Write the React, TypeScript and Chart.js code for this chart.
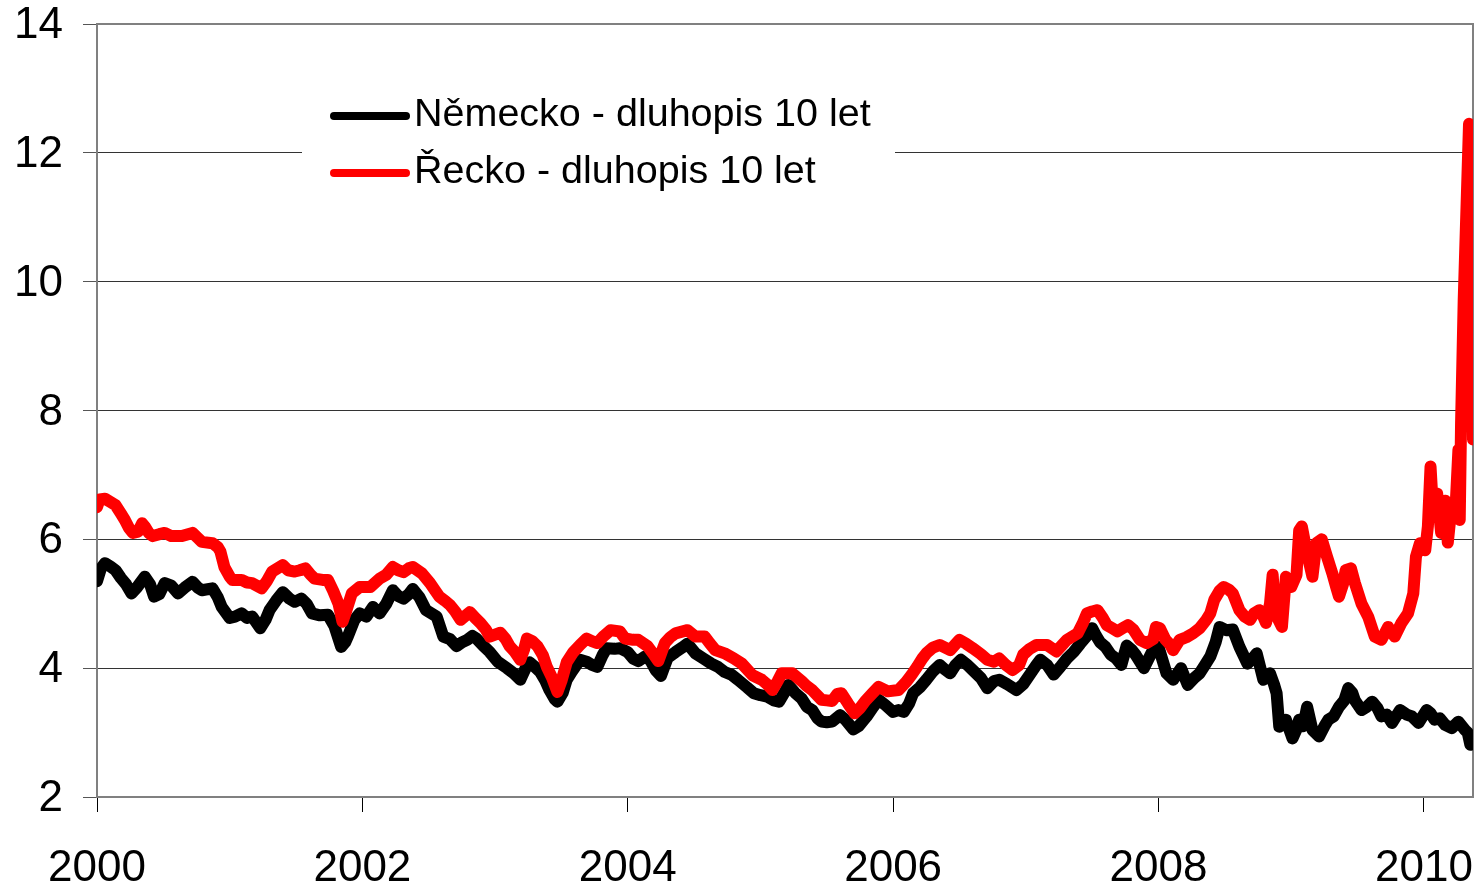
import { useEffect, useRef } from "react";
import { Chart, registerables } from "chart.js";

Chart.register(...registerables);

// Německo (Germany) 10Y bond yield — [year fraction]
const germanyDates = [
  2000.0, 2000.03, 2000.06, 2000.1, 2000.14, 2000.18, 2000.22, 2000.26, 2000.3, 2000.36,
  2000.4, 2000.43, 2000.47, 2000.51, 2000.56, 2000.61, 2000.66, 2000.72, 2000.76, 2000.79,
  2000.87, 2000.91, 2000.94, 2001.0, 2001.04, 2001.09, 2001.13, 2001.17, 2001.23, 2001.27,
  2001.3, 2001.35, 2001.4, 2001.45, 2001.49, 2001.54, 2001.58, 2001.62, 2001.68, 2001.74,
  2001.79, 2001.84, 2001.87, 2001.89, 2001.94, 2001.98, 2002.03, 2002.08, 2002.13, 2002.18,
  2002.23, 2002.27, 2002.31, 2002.35, 2002.38, 2002.43, 2002.48, 2002.52, 2002.56, 2002.61,
  2002.66, 2002.71, 2002.75, 2002.79, 2002.83, 2002.86, 2002.91, 2002.96, 2003.02, 2003.09,
  2003.14, 2003.19, 2003.23, 2003.26, 2003.3, 2003.34, 2003.38, 2003.41, 2003.45, 2003.47,
  2003.51, 2003.54, 2003.58, 2003.64, 2003.69, 2003.73, 2003.77, 2003.81, 2003.84, 2003.9,
  2003.94, 2004.0, 2004.04, 2004.08, 2004.13, 2004.17, 2004.21, 2004.25, 2004.3, 2004.36,
  2004.41, 2004.45, 2004.51, 2004.57, 2004.63, 2004.68, 2004.73, 2004.78, 2004.83, 2004.9,
  2004.95, 2005.0, 2005.05, 2005.1, 2005.14, 2005.18, 2005.21, 2005.26, 2005.31, 2005.35,
  2005.39, 2005.43, 2005.46, 2005.5, 2005.54, 2005.6, 2005.64, 2005.7, 2005.74, 2005.8,
  2005.85, 2005.89, 2005.94, 2006.0, 2006.04, 2006.08, 2006.12, 2006.15, 2006.2, 2006.25,
  2006.3, 2006.35, 2006.39, 2006.43, 2006.47, 2006.51, 2006.56, 2006.6, 2006.66, 2006.71,
  2006.76, 2006.8, 2006.86, 2006.93, 2006.98, 2007.03, 2007.08, 2007.11, 2007.16, 2007.21,
  2007.26, 2007.31, 2007.36, 2007.41, 2007.46, 2007.5, 2007.53, 2007.56, 2007.6, 2007.64,
  2007.68, 2007.72, 2007.76, 2007.8, 2007.83, 2007.89, 2007.95, 2008.0, 2008.06, 2008.11,
  2008.17, 2008.22, 2008.27, 2008.31, 2008.35, 2008.39, 2008.43, 2008.46, 2008.51, 2008.56,
  2008.61, 2008.67, 2008.71, 2008.74, 2008.79, 2008.84, 2008.87, 2008.89, 2008.91, 2008.96,
  2009.01, 2009.04, 2009.06, 2009.09, 2009.12, 2009.16, 2009.21, 2009.25, 2009.28, 2009.32,
  2009.36, 2009.4, 2009.43, 2009.46, 2009.48, 2009.53, 2009.57, 2009.61, 2009.65, 2009.68,
  2009.72, 2009.76, 2009.82, 2009.87, 2009.91, 2009.96, 2010.02, 2010.05, 2010.08, 2010.12,
  2010.16, 2010.21, 2010.26, 2010.31, 2010.33, 2010.35, 2010.37,
];
const germanyYields = [
  5.35, 5.55, 5.63, 5.58, 5.52, 5.4, 5.3, 5.16, 5.25, 5.42,
  5.3, 5.11, 5.15, 5.32, 5.28, 5.16, 5.25, 5.34, 5.25, 5.21,
  5.24, 5.1, 4.95, 4.78, 4.8, 4.85, 4.78, 4.8, 4.62, 4.75,
  4.9, 5.05, 5.18, 5.08, 5.03, 5.08, 5.0, 4.85, 4.82, 4.83,
  4.65, 4.33, 4.4, 4.49, 4.75, 4.85, 4.8, 4.95, 4.85, 5.0,
  5.21, 5.12, 5.08, 5.15, 5.23, 5.1, 4.9, 4.85, 4.8, 4.49,
  4.45, 4.34, 4.4, 4.44, 4.5, 4.46, 4.35, 4.25, 4.1, 4.0,
  3.92, 3.82, 4.0, 4.09, 4.02, 3.94, 3.8, 3.66, 3.52, 3.48,
  3.62, 3.82, 3.95, 4.13, 4.1, 4.05, 4.02, 4.2, 4.31, 4.3,
  4.31, 4.25, 4.15, 4.11, 4.18, 4.12, 3.97, 3.88, 4.16, 4.25,
  4.32, 4.38, 4.23, 4.15, 4.07, 4.02, 3.94, 3.9, 3.82, 3.7,
  3.61, 3.58, 3.56, 3.5, 3.48, 3.62, 3.74, 3.62, 3.53, 3.4,
  3.35, 3.22, 3.17, 3.16, 3.17, 3.27, 3.2, 3.05, 3.1, 3.25,
  3.4, 3.51, 3.43, 3.32, 3.35, 3.32, 3.45, 3.61, 3.7, 3.82,
  3.95, 4.05, 3.98, 3.92, 4.05, 4.13, 4.05, 3.97, 3.85, 3.69,
  3.8, 3.82, 3.75, 3.66, 3.75, 3.9, 4.05, 4.13, 4.05, 3.9,
  4.02, 4.15, 4.25, 4.38, 4.5, 4.62, 4.5, 4.4, 4.33, 4.21,
  4.15, 4.05, 4.35, 4.28, 4.2, 4.0, 4.25, 4.33, 3.92, 3.82,
  4.0, 3.74, 3.85, 3.92, 4.05, 4.18, 4.4, 4.64, 4.59, 4.6,
  4.33, 4.07, 4.15, 4.23, 3.82, 3.92, 3.75, 3.61, 3.09, 3.2,
  2.91, 3.05, 3.2, 3.1, 3.4, 3.04, 2.94, 3.1, 3.2, 3.25,
  3.4, 3.5, 3.69, 3.62, 3.5, 3.35, 3.4, 3.48, 3.38, 3.25,
  3.28, 3.15, 3.35, 3.28, 3.25, 3.15, 3.35, 3.3, 3.2, 3.22,
  3.12, 3.07, 3.17, 3.04, 3.0, 2.81, 2.85,
];

// Řecko (Greece) 10Y bond yield — [year fraction]
const greeceDates = [
  2000.0, 2000.02, 2000.06, 2000.1, 2000.14, 2000.18, 2000.21, 2000.24, 2000.27, 2000.31,
  2000.34, 2000.36, 2000.39, 2000.42, 2000.47, 2000.51, 2000.56, 2000.64, 2000.72, 2000.76,
  2000.79, 2000.87, 2000.91, 2000.93, 2000.96, 2001.0, 2001.02, 2001.09, 2001.13, 2001.17,
  2001.24, 2001.28, 2001.32, 2001.36, 2001.4, 2001.44, 2001.49, 2001.53, 2001.57, 2001.61,
  2001.64, 2001.7, 2001.74, 2001.78, 2001.82, 2001.85, 2001.88, 2001.92, 2001.98, 2002.06,
  2002.13, 2002.18, 2002.23, 2002.27, 2002.31, 2002.35, 2002.38, 2002.45, 2002.51, 2002.55,
  2002.58, 2002.62, 2002.66, 2002.7, 2002.74, 2002.78, 2002.81, 2002.85, 2002.89, 2002.93,
  2002.96, 2003.0, 2003.04, 2003.08, 2003.11, 2003.15, 2003.19, 2003.22, 2003.24, 2003.28,
  2003.32, 2003.36, 2003.39, 2003.43, 2003.47, 2003.5, 2003.54, 2003.59, 2003.64, 2003.69,
  2003.73, 2003.77, 2003.82, 2003.87, 2003.94, 2003.98, 2004.04, 2004.08, 2004.15, 2004.2,
  2004.23, 2004.28, 2004.32, 2004.36, 2004.45, 2004.51, 2004.58, 2004.62, 2004.66, 2004.73,
  2004.8, 2004.86, 2004.94, 2005.01, 2005.05, 2005.09, 2005.13, 2005.16, 2005.24, 2005.31,
  2005.35, 2005.39, 2005.46, 2005.5, 2005.54, 2005.58, 2005.61, 2005.66, 2005.71, 2005.75,
  2005.79, 2005.84, 2005.89, 2005.96, 2006.04, 2006.1, 2006.14, 2006.18, 2006.22, 2006.25,
  2006.3, 2006.35, 2006.43, 2006.5, 2006.55, 2006.6, 2006.66, 2006.71, 2006.76, 2006.8,
  2006.85, 2006.9, 2006.95, 2006.98, 2007.03, 2007.08, 2007.16, 2007.23, 2007.27, 2007.31,
  2007.39, 2007.43, 2007.46, 2007.5, 2007.54, 2007.58, 2007.61, 2007.65, 2007.69, 2007.73,
  2007.77, 2007.81, 2007.86, 2007.91, 2007.96, 2007.98, 2008.01, 2008.05, 2008.09, 2008.11,
  2008.16, 2008.21, 2008.26, 2008.31, 2008.36, 2008.39, 2008.42, 2008.46, 2008.49, 2008.53,
  2008.56, 2008.61, 2008.65, 2008.69, 2008.72, 2008.76, 2008.79, 2008.81, 2008.84, 2008.86,
  2008.88, 2008.93, 2008.96, 2009.0, 2009.04, 2009.06, 2009.08, 2009.11, 2009.14, 2009.16,
  2009.19, 2009.23, 2009.27, 2009.31, 2009.34, 2009.36, 2009.39, 2009.41, 2009.45, 2009.48,
  2009.53, 2009.58, 2009.63, 2009.68, 2009.73, 2009.78, 2009.83, 2009.88, 2009.92, 2009.94,
  2009.97, 2010.01, 2010.03, 2010.05, 2010.07, 2010.1, 2010.13, 2010.16, 2010.18, 2010.2,
  2010.24, 2010.26, 2010.27, 2010.28, 2010.3, 2010.34, 2010.36, 2010.37,
];
const greeceYields = [
  6.5, 6.62, 6.63, 6.58, 6.53, 6.4, 6.3, 6.18, 6.1, 6.12,
  6.25, 6.2, 6.1, 6.05, 6.08, 6.1, 6.05, 6.05, 6.1, 6.02,
  5.96, 5.94, 5.88, 5.81, 5.57, 5.42, 5.37, 5.37, 5.33, 5.32,
  5.24, 5.35, 5.5, 5.55, 5.6, 5.52, 5.5, 5.52, 5.55, 5.45,
  5.39, 5.37, 5.37, 5.2, 5.0, 4.72, 4.9, 5.16, 5.26, 5.26,
  5.39, 5.45, 5.57, 5.52, 5.49, 5.55, 5.57, 5.47, 5.32, 5.2,
  5.11, 5.05, 4.98, 4.88, 4.75, 4.82, 4.87, 4.78, 4.7, 4.6,
  4.49, 4.52, 4.55, 4.45, 4.34, 4.25, 4.13, 4.3, 4.46, 4.42,
  4.34, 4.2, 4.02, 3.85, 3.63, 3.8, 4.09, 4.25, 4.36, 4.46,
  4.42, 4.39, 4.5, 4.59, 4.57, 4.46, 4.44, 4.44, 4.34, 4.2,
  4.11, 4.39, 4.48, 4.54, 4.59, 4.49, 4.49, 4.38, 4.28, 4.23,
  4.15, 4.07, 3.89, 3.82, 3.75, 3.66, 3.8, 3.92, 3.92, 3.8,
  3.72, 3.66, 3.51, 3.5, 3.49, 3.6, 3.61, 3.45, 3.3, 3.38,
  3.49, 3.6, 3.71, 3.64, 3.66, 3.79, 3.9, 4.02, 4.15, 4.23,
  4.32, 4.36, 4.28, 4.44, 4.38, 4.31, 4.22, 4.13, 4.1, 4.15,
  4.05, 3.97, 4.05, 4.21, 4.3, 4.36, 4.36, 4.26, 4.35, 4.44,
  4.54, 4.7, 4.85, 4.88, 4.9, 4.78, 4.67, 4.62, 4.57, 4.62,
  4.67, 4.6, 4.44, 4.39, 4.45, 4.64, 4.62, 4.45, 4.36, 4.28,
  4.44, 4.48, 4.54, 4.62, 4.75, 4.85, 5.06, 5.2, 5.26, 5.22,
  5.16, 4.9, 4.8, 4.75, 4.85, 4.9, 4.8, 4.7, 5.0, 5.45,
  4.85, 4.64, 5.42, 5.26, 5.45, 6.14, 6.2, 5.88, 5.6, 5.42,
  5.94, 6.0, 5.73, 5.47, 5.25, 5.11, 5.3, 5.52, 5.55, 5.32,
  5.0, 4.8, 4.49, 4.44, 4.64, 4.49, 4.7, 4.85, 5.16, 5.73,
  5.94, 5.83, 6.2, 7.13, 6.4, 6.71, 6.1, 6.6, 5.95, 6.35,
  6.55, 7.39, 6.3, 7.8, 9.72, 12.45, 11.0, 7.55,
];

const xTickYears = [2000, 2002, 2004, 2006, 2008, 2010];
const yTickValues = [2, 4, 6, 8, 10, 12, 14];
const seriesLabels = ["Německo - dluhopis 10 let", "Řecko - dluhopis 10 let"];
const seriesColors = ["#000000", "#ff0000"];

const FONT = "'Liberation Sans', Arial, Helvetica, sans-serif";

const framePlugin = {
  id: "frame",
  beforeDatasetsDraw(chart: any) {
    const { ctx, chartArea } = chart;
    const { left, top, right, bottom } = chartArea;
    ctx.save();
    // legend background (hides gridline behind legend)
    ctx.fillStyle = "#ffffff";
    ctx.fillRect(left + 205, 75, 593, 140);
    // frame
    ctx.strokeStyle = "#808080";
    ctx.lineWidth = 2;
    ctx.strokeRect(left, top, right - left, bottom - top);
    ctx.restore();
  },
};

const legendPlugin = {
  id: "customLegend",
  afterDatasetsDraw(chart: any) {
    const { ctx, chartArea } = chart;
    const x0 = chartArea.left + 237;
    const x1 = chartArea.left + 309;
    const rows = [116, 173];
    ctx.save();
    chart.data.datasets.forEach((ds: any, i: number) => {
      const y = rows[i];
      ctx.strokeStyle = ds.borderColor;
      ctx.lineWidth = 8;
      ctx.lineCap = "round";
      ctx.beginPath();
      ctx.moveTo(x0, y);
      ctx.lineTo(x1, y);
      ctx.stroke();
      ctx.fillStyle = "#000";
      ctx.font = `39.5px ${FONT}`;
      ctx.textAlign = "left";
      ctx.textBaseline = "middle";
      ctx.fillText(ds.label, chartArea.left + 317, y - 1);
    });
    ctx.restore();
  },
};

export default function App() {
  const ref = useRef<HTMLCanvasElement>(null);
  useEffect(() => {
    document.body.style.margin = "0";
    const canvas = ref.current;
    if (!canvas) return;
    const chart = new Chart(canvas, {
      type: "line",
      data: {
        datasets: [
          {
            label: seriesLabels[0],
            data: germanyDates.map((d, i) => ({ x: d, y: germanyYields[i] })),
            borderColor: seriesColors[0],
            backgroundColor: seriesColors[0],
            borderWidth: 12,
            pointRadius: 0,
            tension: 0,
            borderJoinStyle: "round",
            borderCapStyle: "round",
            order: 1,
          },
          {
            label: seriesLabels[1],
            data: greeceDates.map((d, i) => ({ x: d, y: greeceYields[i] })),
            borderColor: seriesColors[1],
            backgroundColor: seriesColors[1],
            borderWidth: 12,
            pointRadius: 0,
            tension: 0,
            borderJoinStyle: "round",
            borderCapStyle: "round",
            order: 0,
          },
        ],
      },
      options: {
        responsive: false,
        animation: false,
        layout: { padding: { top: 24, right: 6, left: 0, bottom: 0 } },
        plugins: {
          legend: { display: false },
          tooltip: { enabled: false },
        },
        scales: {
          x: {
            type: "linear",
            min: 2000,
            max: 2010.37,
            afterBuildTicks: (s: any) => {
              s.ticks = xTickYears.map((v) => ({ value: v }));
            },
            afterFit: (s: any) => {
              s.height = 91;
              s.paddingLeft = 0;
              s.paddingRight = 0;
            },
            ticks: {
              callback: (v: any) => String(v),
              font: { family: FONT, size: 44, lineHeight: 1 },
              color: "#000",
              padding: 35,
              maxRotation: 0,
              autoSkip: false,
            },
            grid: { drawOnChartArea: false, drawTicks: true, tickLength: 15, color: "#000", lineWidth: 1 },
            border: { display: false },
          },
          y: {
            type: "linear",
            min: 2,
            max: 14,
            afterBuildTicks: (s: any) => {
              s.ticks = yTickValues.map((v) => ({ value: v }));
            },
            afterFit: (s: any) => {
              s.width = 97;
              s.paddingTop = 0;
              s.paddingBottom = 0;
            },
            ticks: {
              callback: (v: any) => String(v),
              font: { family: FONT, size: 44, lineHeight: 1 },
              color: "#000",
              padding: 20,
              labelOffset: 2,
            },
            grid: {
              drawTicks: true,
              tickLength: 14,
              color: (c: any) => (c.tick && (c.tick.value === 2 || c.tick.value === 14) ? "#808080" : "#333333"),
              tickColor: "#555555",
              lineWidth: 1,
            },
            border: { display: false },
          },
        },
      },
      plugins: [framePlugin, legendPlugin],
    } as any);
    return () => chart.destroy();
  }, []);
  return (
    <div style={{ width: 1479, height: 888, background: "#fff" }}>
      <canvas ref={ref} width={1479} height={888} style={{ display: "block" }} />
    </div>
  );
}
